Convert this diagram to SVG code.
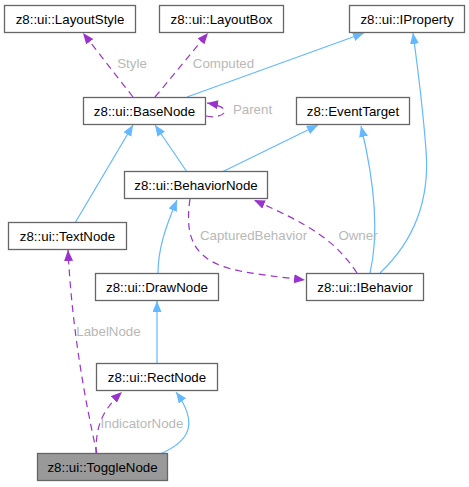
<svg xmlns="http://www.w3.org/2000/svg" width="469" height="487" viewBox="0 0 469 487">
<style>
.n rect{fill:#ffffff;stroke:#666666;stroke-width:1.3}
.n.cur rect{fill:#999999}
.n text{font-family:"Liberation Sans",Arial,sans-serif;font-size:13.3px;fill:#000;text-anchor:middle}
.inh{fill:none;stroke:#63b8ff;stroke-width:1.2;marker-end:url(#ab)}
.use{fill:none;stroke:#9a32cd;stroke-width:1.2;stroke-dasharray:7,5;marker-end:url(#ap)}
.lbl{font-family:"Liberation Sans",Arial,sans-serif;font-size:13.3px;fill:#b8b8b8;text-anchor:middle}
</style>
<defs>
<marker id="ab" markerUnits="userSpaceOnUse" markerWidth="12" markerHeight="10" refX="11" refY="4.5" orient="auto"><path d="M0,0 L11,4.5 L0,9 z" fill="#63b8ff"/></marker>
<marker id="ap" markerUnits="userSpaceOnUse" markerWidth="12" markerHeight="10" refX="11" refY="4.5" orient="auto"><path d="M0,0 L11,4.5 L0,9 z" fill="#9a32cd"/></marker>
</defs>
<g id="edges">
<path class="use" d="M133,97 L83,33"/>
<path class="use" d="M155,97 L208,33"/>
<path class="inh" d="M187,97 L364,33"/>
<path class="use" d="M206,116 C222,120 238,108 207,103"/>
<path class="inh" d="M75,223 L133,125"/>
<path class="inh" d="M187,172 L155,125"/>
<path class="inh" d="M222,172 L318,125"/>
<path class="inh" d="M370,273 C380,230 374,180 361,126"/>
<path class="inh" d="M380,273 C415,240 430,200 426,150 C423,110 418,70 413,33"/>
<path class="inh" d="M158,273 C158,250 165,228 177,200"/>
<path class="use" d="M190,199 C184,240 195,262 240,271 C260,275 280,277 305,280"/>
<path class="use" d="M357,273 C335,240 310,225 254,200"/>
<path class="use" d="M97,454 C85,400 72,330 68,250"/>
<path class="use" d="M96,454 C96,432 98,414 122,392"/>
<path class="inh" d="M160,454 C188,442 200,425 176,392"/>
<path class="inh" d="M157,363 L157,301"/>
<text class="lbl" x="132" y="68">Style</text>
<text class="lbl" x="223.5" y="68">Computed</text>
<text class="lbl" x="252.5" y="114">Parent</text>
<text class="lbl" x="253.5" y="240">CapturedBehavior</text>
<text class="lbl" x="358" y="240">Owner</text>
<text class="lbl" x="108.5" y="336">LabelNode</text>
<text class="lbl" x="142" y="428">IndicatorNode</text>
</g>
<g id="LayoutStyle" class="n"><rect x="4.5" y="5.5" width="131" height="27"/><text x="70" y="23.5">z8::ui::LayoutStyle</text></g>
<g id="LayoutBox" class="n"><rect x="159.5" y="5.5" width="124" height="27"/><text x="221.5" y="23.5">z8::ui::LayoutBox</text></g>
<g id="IProperty" class="n"><rect x="349.5" y="5.5" width="115" height="27"/><text x="407" y="23.5">z8::ui::IProperty</text></g>
<g id="BaseNode" class="n"><rect x="83.5" y="97.5" width="122" height="27"/><text x="144.5" y="115.5">z8::ui::BaseNode</text></g>
<g id="EventTarget" class="n"><rect x="296.5" y="97.5" width="113" height="27"/><text x="353" y="115.5">z8::EventTarget</text></g>
<g id="BehaviorNode" class="n"><rect x="124.5" y="171.5" width="143" height="27"/><text x="196" y="189.5">z8::ui::BehaviorNode</text></g>
<g id="TextNode" class="n"><rect x="8.5" y="222.5" width="118" height="27"/><text x="67.5" y="240.5">z8::ui::TextNode</text></g>
<g id="DrawNode" class="n"><rect x="95.5" y="273.5" width="123" height="27"/><text x="157" y="291.5">z8::ui::DrawNode</text></g>
<g id="IBehavior" class="n"><rect x="306.5" y="273.5" width="117" height="27"/><text x="365" y="291.5">z8::ui::IBehavior</text></g>
<g id="RectNode" class="n"><rect x="96.5" y="363.5" width="121" height="27"/><text x="157" y="381.5">z8::ui::RectNode</text></g>
<g id="ToggleNode" class="n cur"><rect x="37.5" y="453.5" width="130" height="27"/><text x="102.5" y="471.5">z8::ui::ToggleNode</text></g>
</svg>
